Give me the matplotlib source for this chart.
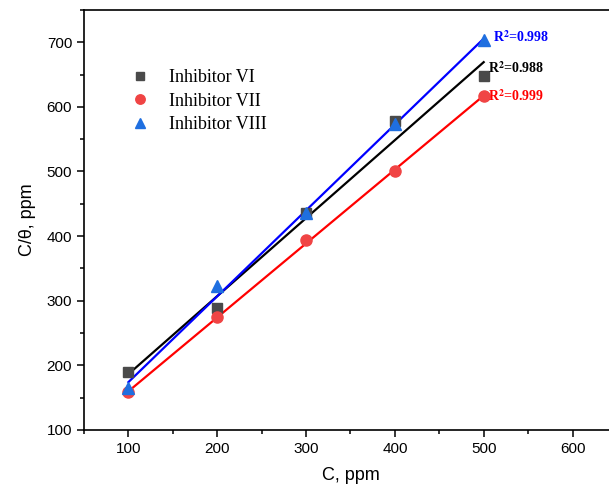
import numpy as np
import matplotlib.pyplot as plt
from matplotlib.ticker import MultipleLocator

conc = [100, 200, 300, 400, 500]
vi = [189, 289, 435, 578, 648]
vii = [158, 274, 394, 500, 617]
viii = [165, 322, 435, 573, 704]
names = ['Inhibitor VI', 'Inhibitor VII', 'Inhibitor VIII']
r2 = ['0.988', '0.999', '0.998']

plt.rcParams['font.family'] = 'Liberation Sans'
plt.rcParams['mathtext.fontset'] = 'stix'

fig = plt.figure(figsize=(6.09, 4.97), dpi=100)
ax = fig.add_axes([0.138, 0.135, 0.875, 0.845])

styles = [
    dict(marker='s', color='#4a4a4a', line='black', ms=7.5),
    dict(marker='o', color='#f04444', line='#ff0000', ms=8),
    dict(marker='^', color='#1f6fe0', line='#0000ff', ms=8.5),
]
x = np.array(conc)
label_pos = [(505, 660), (505, 617), (510, 708)]
for y, name, st, r, pos in zip([vi, vii, viii], names, styles, r2, label_pos):
    y = np.array(y)
    k, b = np.polyfit(x, y, 1)
    ax.plot(x, k * x + b, color=st['line'], lw=1.6, zorder=2)
    ax.plot(x, y, st['marker'], color=st['color'], ms=st['ms'], ls='none',
            label=name, zorder=3)
    ax.text(pos[0], pos[1], r'R$^{\mathbf{2}}$=' + r, color=st['line'],
            fontsize=10, fontweight='bold', family='Liberation Serif',
            va='center', ha='left')

ax.set_xlim(50, 650)
ax.set_ylim(100, 750)
ax.xaxis.set_minor_locator(MultipleLocator(50))
ax.yaxis.set_minor_locator(MultipleLocator(50))
ax.set_xticks([100, 200, 300, 400, 500, 600])
ax.set_yticks([100, 200, 300, 400, 500, 600, 700])
ax.tick_params(which='both', direction='out', labelsize=11, width=1.1)
ax.tick_params(which='major', length=5)
ax.tick_params(which='minor', length=3)
for s in ax.spines.values():
    s.set_linewidth(1.2)

ax.set_xlabel('C, ppm', fontsize=13, labelpad=8)
ax.set_ylabel('C/θ, ppm', fontsize=13, labelpad=8)

ax.legend(loc='upper left', bbox_to_anchor=(0.055, 0.897), frameon=False,
          prop={'family': 'Liberation Serif', 'size': 13},
          handletextpad=1.0, labelspacing=0.35, handlelength=1.2,
          markerscale=0.85)

fig.savefig('out.png', dpi=100)
